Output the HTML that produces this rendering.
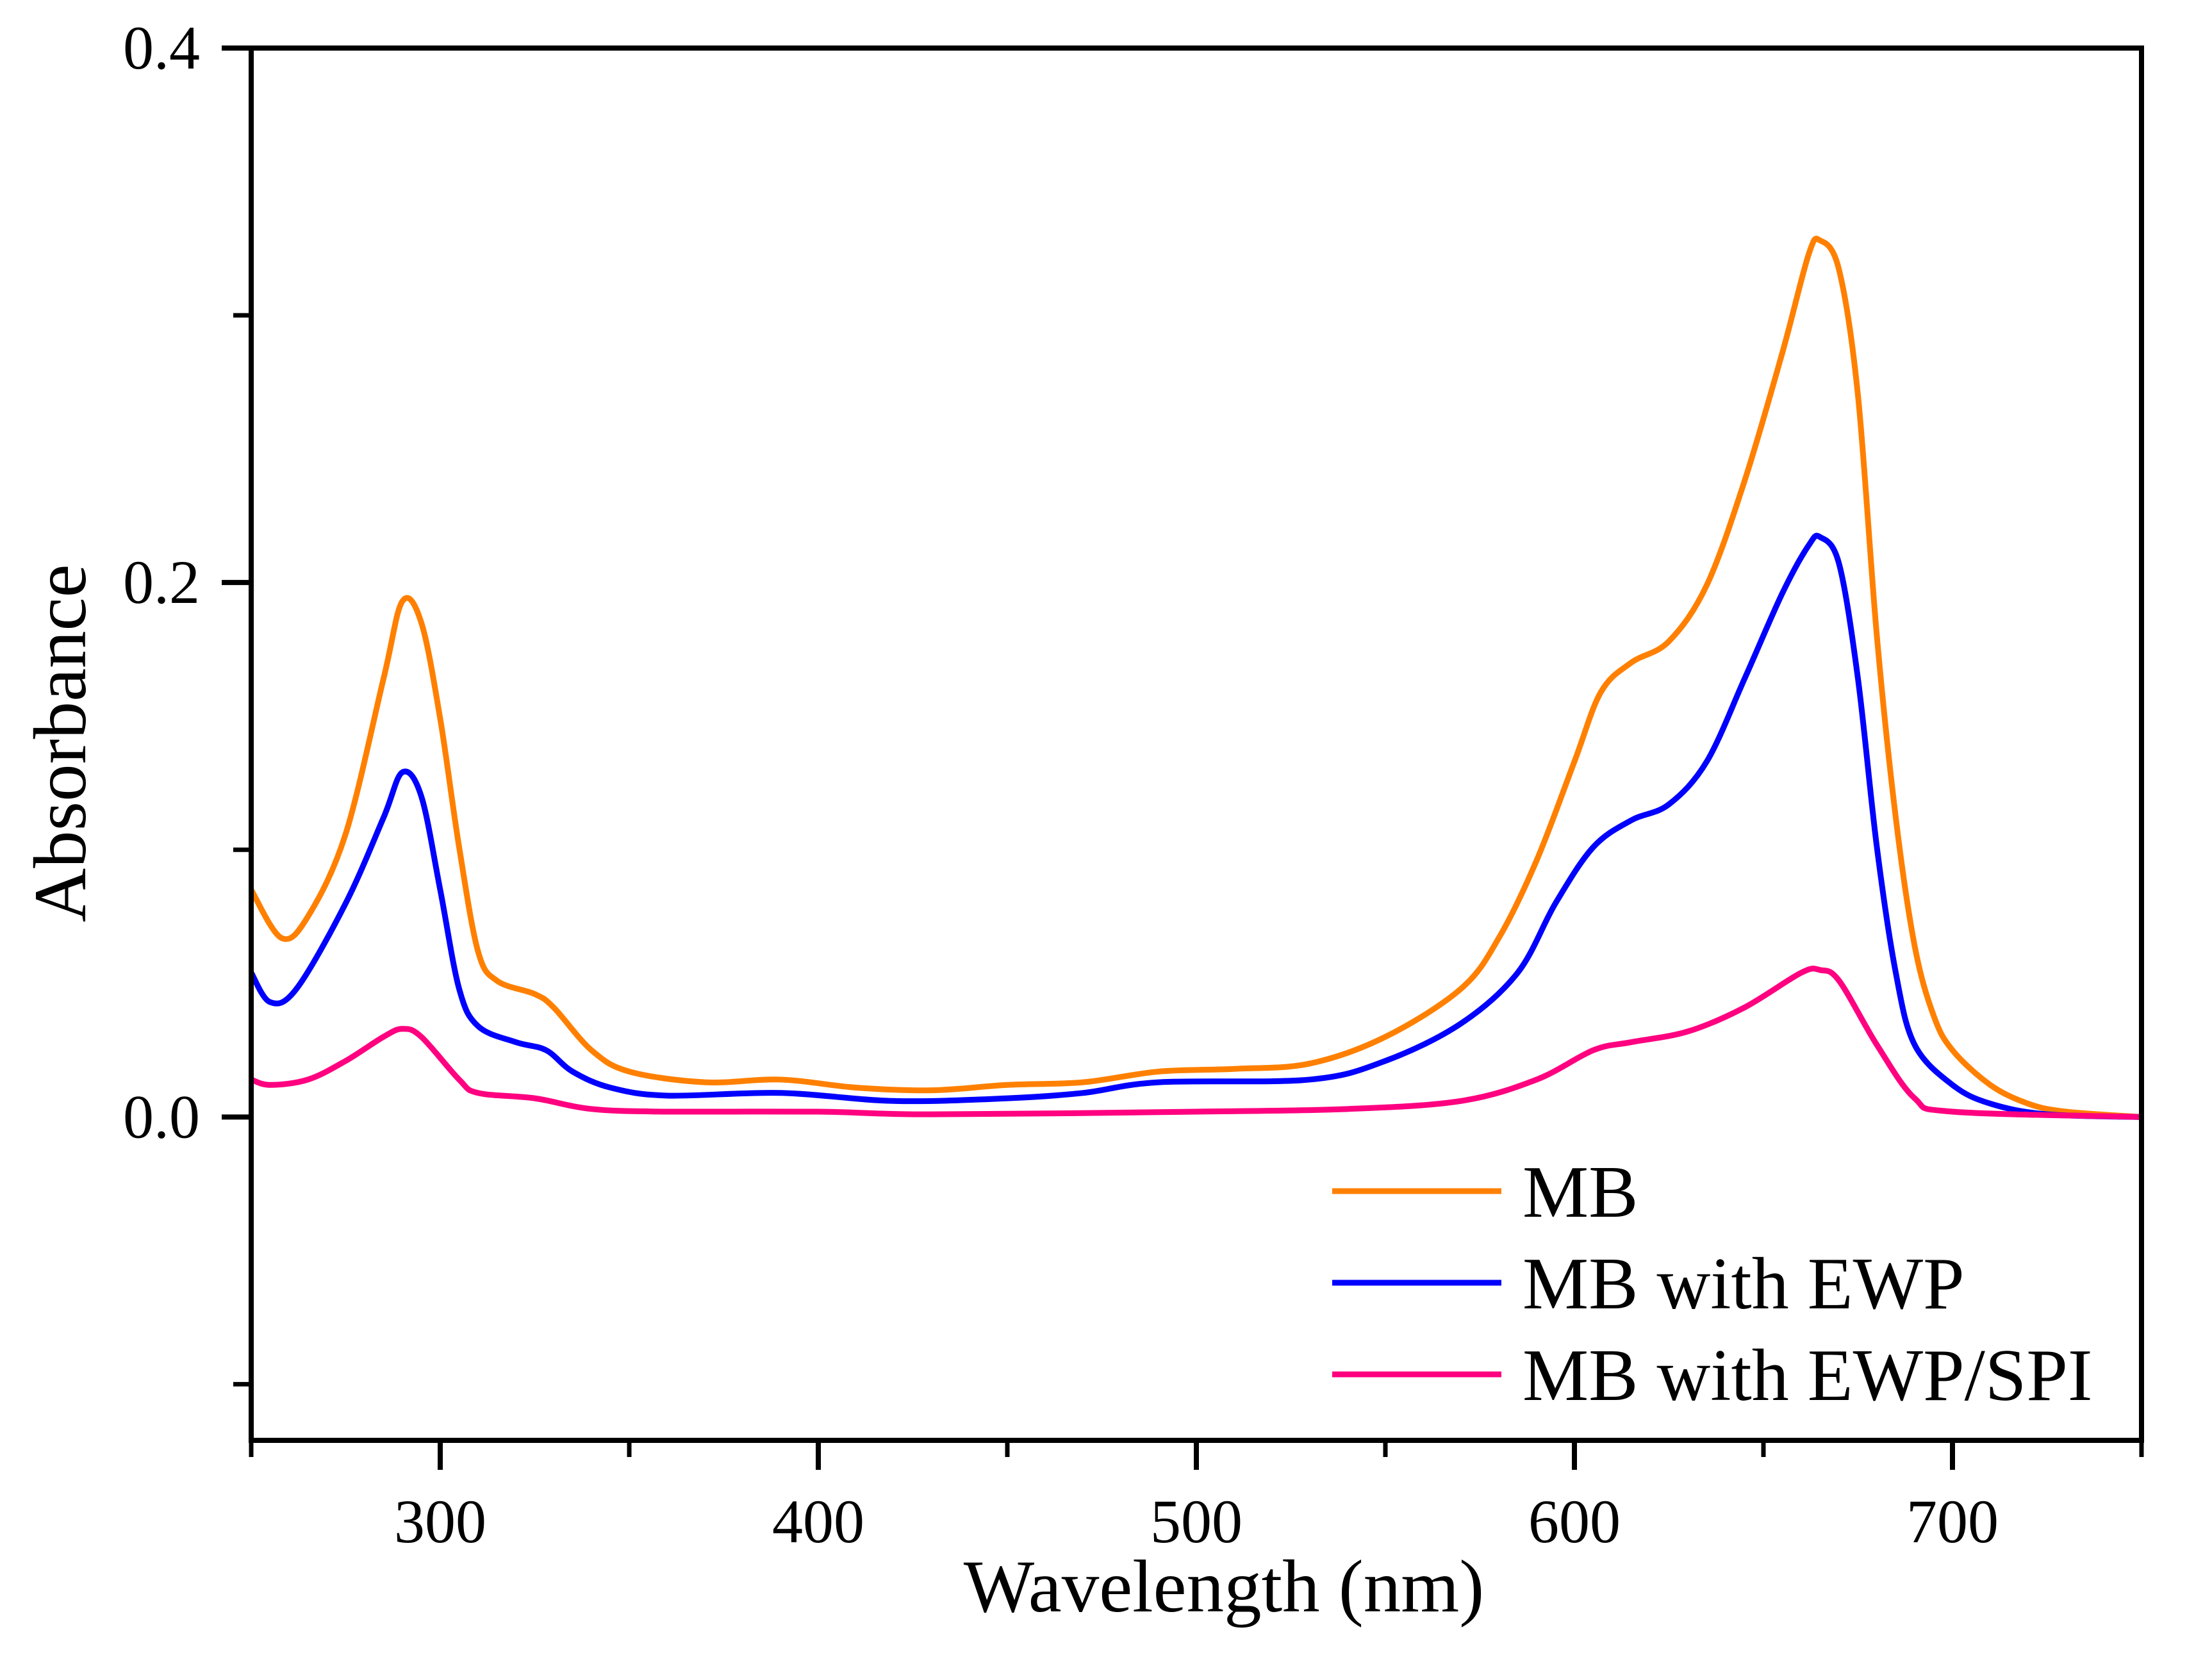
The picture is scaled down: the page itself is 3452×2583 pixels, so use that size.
<!DOCTYPE html>
<html><head><meta charset="utf-8"><style>
html,body{margin:0;padding:0;background:#fff;}
svg{display:block;font-family:"Liberation Serif",serif;}
</style></head><body>
<svg id="chart" width="3452" height="2583" viewBox="0 0 3452 2583" xmlns="http://www.w3.org/2000/svg">
<g id="marks"></g>
</svg>
<script>
const xTicks=[300,400,500,600,700];
const xMinor=[250,350,450,550,650,750];
const yTicks=[0.0,0.2,0.4];
const yTickLabels=["0.0","0.2","0.4"];
const yMinor=[-0.1,0.1,0.3];
const seriesNames=["MB","MB with EWP","MB with EWP/SPI"];
const mbX=[250,258,265,275,285,290,295,300,305,310,315,325,330,340,350,370,390,410,430,450,470,490,510,530,550,570,580,590,600,607,615,625,635,645,655,662,665,670,675,680,685,690,695,700,710,720,730,750];
const mbY=[0.085,0.067,0.075,0.106,0.164,0.193,0.185,0.149,0.101,0.062,0.051,0.046,0.041,0.025,0.017,0.013,0.014,0.011,0.010,0.012,0.013,0.017,0.018,0.020,0.030,0.048,0.067,0.096,0.133,0.159,0.170,0.178,0.199,0.238,0.286,0.323,0.328,0.317,0.270,0.180,0.112,0.064,0.038,0.025,0.012,0.005,0.002,0.000];
const ewpX=[250,255,262,275,285,290,295,300,305,310,320,328,335,345,360,390,420,450,470,490,530,550,570,585,595,605,615,625,635,645,655,662,665,670,675,680,685,690,700,710,725,750];
const ewpY=[0.054,0.043,0.048,0.080,0.112,0.129,0.120,0.085,0.048,0.034,0.028,0.025,0.017,0.011,0.008,0.009,0.006,0.007,0.009,0.013,0.014,0.021,0.035,0.054,0.080,0.101,0.111,0.117,0.133,0.164,0.196,0.214,0.217,0.207,0.164,0.101,0.054,0.027,0.012,0.005,0.001,0.000];
const spiX=[250,255,265,275,285,290,295,305,310,325,340,360,400,430,500,540,570,590,605,615,630,645,660,665,670,680,690,700,750];
const spiY=[0.014,0.012,0.014,0.021,0.030,0.033,0.030,0.014,0.009,0.007,0.003,0.002,0.002,0.001,0.002,0.003,0.006,0.014,0.025,0.028,0.032,0.041,0.054,0.055,0.051,0.027,0.007,0.002,0.000];

const L=392,R=3342,T=75,B=2248,XMIN=250,XMAX=750,YMIN=-0.121,YMAX=0.4;
const xs=v=>L+(v-XMIN)/(XMAX-XMIN)*(R-L);
const ys=v=>B-(v-YMIN)/(YMAX-YMIN)*(B-T);
const NS="http://www.w3.org/2000/svg";
const svg=document.getElementById('chart');
function mk(tag,attrs,parent){const e=document.createElementNS(NS,tag);for(const k in attrs)e.setAttribute(k,attrs[k]);(parent||svg).appendChild(e);return e;}

function pathFor(X,Y){
  const p=X.map((x,i)=>[xs(x),ys(Y[i])]);
  let d=`M${p[0][0]},${p[0][1]}`;
  for(let i=0;i<p.length-1;i++){
    const p0=p[Math.max(i-1,0)],p1=p[i],p2=p[i+1],p3=p[Math.min(i+2,p.length-1)];
    const c1=[p1[0]+(p2[0]-p0[0])/6,p1[1]+(p2[1]-p0[1])/6];
    const c2=[p2[0]-(p3[0]-p1[0])/6,p2[1]-(p3[1]-p1[1])/6];
    d+=`C${c1[0]},${c1[1]} ${c2[0]},${c2[1]} ${p2[0]},${p2[1]}`;
  }
  return d;
}
const marks=document.getElementById('marks');
const series=[[mbX,mbY,"#FF8000","mb-line"],[ewpX,ewpY,"#0000FF","mb-ewp-line"],[spiX,spiY,"#FF0080","mb-ewp-spi-line"]];
series.forEach(s=>{
  const el=mk('path',{d:pathFor(s[0],s[1]),fill:'none',stroke:s[2],'stroke-width':9,'stroke-linejoin':'round'},marks);
  
  
});

const fr=mk('rect',{x:L,y:T,width:R-L,height:B-T,fill:'none',stroke:'#000','stroke-width':8});



xTicks.forEach(v=>{
  const t=mk('line',{x1:xs(v),x2:xs(v),y1:B,y2:B+46,stroke:'#000','stroke-width':8});
  
  
  const l=mk('text',{x:xs(v),y:2407,'font-size':96,'text-anchor':'middle',fill:'#000'});
  l.textContent=v;
  
  
});
xMinor.forEach(v=>{
  const t=mk('line',{x1:xs(v),x2:xs(v),y1:B,y2:B+26,stroke:'#000','stroke-width':7});
  
  
});
yTicks.forEach((v,i)=>{
  const t=mk('line',{x1:L-46,x2:L,y1:ys(v),y2:ys(v),stroke:'#000','stroke-width':8});
  
  
  const l=mk('text',{x:312,y:ys(v)+32,'font-size':96,'text-anchor':'end',fill:'#000'});
  l.textContent=yTickLabels[i];
  
  
});
yMinor.forEach(v=>{
  const t=mk('line',{x1:L-28,x2:L,y1:ys(v),y2:ys(v),stroke:'#000','stroke-width':7});
  
  
});

const xt=mk('text',{x:1910,y:2515,'font-size':117,'text-anchor':'middle',fill:'#000'});
xt.textContent='Wavelength (nm)';


const yt=mk('text',{x:0,y:0,'font-size':117,'text-anchor':'middle',fill:'#000',transform:'translate(133,1160) rotate(-90)'});
yt.textContent='Absorbance';



const legY=[1859,2002,2145];
series.forEach((s,i)=>{
  const g=mk('g',{});
  
  
  mk('line',{x1:2079,x2:2343,y1:legY[i],y2:legY[i],stroke:s[2],'stroke-width':9},g);
  const t=mk('text',{x:2376,y:legY[i]+40,'font-size':116,fill:'#000'},g);
  t.textContent=seriesNames[i];
});
</script>
</body></html>
